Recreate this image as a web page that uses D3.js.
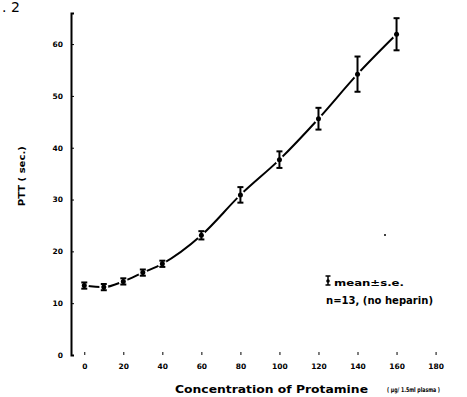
<!DOCTYPE html>
<html>
<head>
<meta charset="utf-8">
<script src="https://cdn.jsdelivr.net/npm/d3@7"></script>
<style>
  body { margin: 0; background: #fff; }
  text { font-family: "DejaVu Sans", "Liberation Sans", sans-serif; font-weight: bold; fill: #000; }
</style>
</head>
<body>
<div id="chart"></div>
<script>
// protamine concentration (ug / 1.5ml plasma)
const conc = [0, 10, 20, 30, 40, 60, 80, 100, 120, 140, 160]
// mean PTT (sec.)
const ptt = [13.4, 13.1, 14.2, 15.9, 17.6, 23.1, 30.9, 37.7, 45.6, 54.2, 61.9]
// standard error
const se = [0.6, 0.6, 0.6, 0.6, 0.6, 0.8, 1.5, 1.6, 2.1, 3.4, 3.1]
const xTicks = [0, 20, 40, 60, 80, 100, 120, 140, 160, 180]
const yTicks = [0, 10, 20, 30, 40, 50, 60]

const width = 467, height = 397
const margin = { top: 13, right: 8, bottom: 42, left: 71 }

const svg = d3.select('#chart').append('svg')
  .attr('width', width)
  .attr('height', height)

const x = d3.scaleLinear().domain([-6.8, 192]).range([margin.left, width - margin.right])
const y = d3.scaleLinear().domain([0, 66]).range([height - margin.bottom, margin.top])

// figure number at the top left
svg.append('text')
  .attr('x', 2).attr('y', 12)
  .style('font-weight', 'normal')
  .style('font-size', '14px')
  .text('. 2')

// axes
const xAxis = svg.append('g')
  .attr('transform', `translate(0,${y(0)})`)
  .call(d3.axisBottom(x).tickValues(xTicks).tickSize(-3).tickPadding(7))
xAxis.select('.domain').attr('stroke-width', 2)
xAxis.selectAll('.tick text').style('font-size', '7.5px').attr('dy', '0.9em')

const yAxis = svg.append('g')
  .attr('transform', `translate(${margin.left},0)`)
  .call(d3.axisLeft(y).tickValues(yTicks).tickSize(-3).tickPadding(8))
yAxis.select('.domain').attr('stroke-width', 2)
yAxis.selectAll('.tick text').style('font-size', '7.5px')

// drop the outer tick ends of the domain paths
svg.selectAll('.domain').attr('d', function() { return d3.select(this).attr('d').replace(/V[^H]*H[-\d.]+V[-\d.]+$/, '') })

// axis titles
svg.append('text')
  .attr('transform', `translate(25,${y(34.5)}) rotate(-90)`)
  .attr('text-anchor', 'middle')
  .style('font-size', '8.5px')
  .attr('textLength', 60)
  .attr('lengthAdjust', 'spacingAndGlyphs')
  .text('PTT ( sec.)')

svg.append('text')
  .attr('x', 175).attr('y', 393)
  .style('font-size', '10px')
  .attr('textLength', 193)
  .attr('lengthAdjust', 'spacingAndGlyphs')
  .text('Concentration  of  Protamine')

svg.append('text')
  .attr('x', 387).attr('y', 392)
  .style('font-size', '6.5px')
  .attr('textLength', 53)
  .attr('lengthAdjust', 'spacingAndGlyphs')
  .text('( µg/ 1.5ml plasma )')

// curve
const data = conc.map((c, i) => ({ c, v: ptt[i], e: se[i] }))
const line = d3.line()
  .x(d => x(d.c))
  .y(d => y(d.v))
  .curve(d3.curveMonotoneX)

svg.append('path')
  .datum(data)
  .attr('d', line)
  .attr('fill', 'none')
  .attr('stroke', '#000')
  .attr('stroke-width', 2)

// white gaps around markers
svg.selectAll('.gap')
  .data(data)
  .enter().append('circle')
  .attr('cx', d => x(d.c))
  .attr('cy', d => y(d.v))
  .attr('r', 4.5)
  .attr('fill', '#fff')

// error bars
const bars = svg.selectAll('.err')
  .data(data)
  .enter().append('g')
  .attr('stroke', '#000')
  .attr('stroke-width', 2)

bars.append('line')
  .attr('x1', d => x(d.c)).attr('x2', d => x(d.c))
  .attr('y1', d => y(d.v + d.e)).attr('y2', d => y(d.v - d.e))

bars.append('line')
  .attr('x1', d => x(d.c) - 3).attr('x2', d => x(d.c) + 3)
  .attr('y1', d => y(d.v + d.e)).attr('y2', d => y(d.v + d.e))

bars.append('line')
  .attr('x1', d => x(d.c) - 3).attr('x2', d => x(d.c) + 3)
  .attr('y1', d => y(d.v - d.e)).attr('y2', d => y(d.v - d.e))

svg.selectAll('.dot')
  .data(data)
  .enter().append('circle')
  .attr('cx', d => x(d.c))
  .attr('cy', d => y(d.v))
  .attr('r', 2.5)
  .attr('fill', '#000')

// legend
const lg = svg.append('g').attr('stroke', '#000').attr('stroke-width', 1.5)
lg.append('line').attr('x1', 328).attr('x2', 328).attr('y1', 276).attr('y2', 285)
lg.append('line').attr('x1', 325.5).attr('x2', 330.5).attr('y1', 276).attr('y2', 276)
lg.append('line').attr('x1', 325.5).attr('x2', 330.5).attr('y1', 285).attr('y2', 285)
svg.append('circle').attr('cx', 328).attr('cy', 281).attr('r', 1.8)

svg.append('text')
  .attr('x', 334).attr('y', 286)
  .style('font-size', '9px')
  .attr('textLength', 70)
  .attr('lengthAdjust', 'spacingAndGlyphs')
  .text('mean±s.e.')

svg.append('text')
  .attr('x', 326).attr('y', 304)
  .style('font-size', '10px')
  .attr('textLength', 107)
  .attr('lengthAdjust', 'spacingAndGlyphs')
  .text('n=13, (no heparin)')

// small speck
svg.append('circle').attr('cx', 385).attr('cy', 235).attr('r', 1).attr('fill', '#000')
</script>
</body>
</html>
